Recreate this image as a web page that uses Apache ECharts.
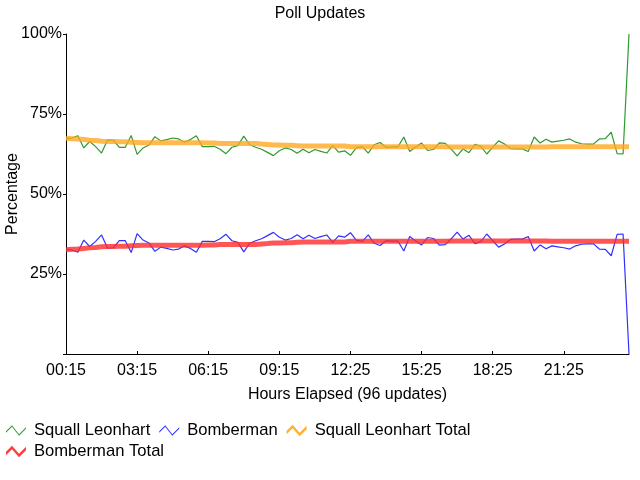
<!DOCTYPE html>
<html>
<head>
<meta charset="utf-8">
<script src="https://cdn.jsdelivr.net/npm/echarts@6/dist/echarts.min.js"></script>
<style>html,body{margin:0;padding:0;background:#fff}#c{width:640px;height:480px}</style>
</head>
<body>
<div id="c"></div>
<script>
var categories = [
 "00:15","00:30","00:45","01:00","01:15","01:30","01:45","02:00","02:15","02:30",
 "02:45","03:00","03:15","03:30","03:45","04:00","04:15","04:30","04:45","05:00",
 "05:15","05:30","05:45","06:00","06:15","06:30","06:45","07:00","07:15","07:30",
 "07:45","08:00","08:15","08:30","08:45","09:00","09:15","09:30","09:45","10:00",
 "10:15","10:30","10:45","11:00","11:15","11:40","11:55","12:10","12:25","12:40",
 "12:55","13:10","13:25","13:40","13:55","14:10","14:25","14:40","14:55","15:10",
 "15:25","15:40","15:55","16:10","16:25","16:40","16:55","17:10","17:25","17:40",
 "17:55","18:10","18:25","18:40","18:55","19:10","19:25","19:40","19:55","20:10",
 "20:25","20:40","20:55","21:10","21:25","21:40","21:55","22:10","22:25","22:40",
 "22:55","23:10","23:25","23:40","23:55","00:10"
];
var squall = [
 67.2,67.5,68.2,64.4,66.4,64.8,62.8,66.9,66.8,64.6,
 64.6,68.3,62.4,64.4,65.3,67.9,66.6,67.0,67.5,67.2,
 66.2,67.0,68.2,64.8,64.8,64.9,64.0,62.6,64.6,65.1,
 68.1,65.4,64.6,64.0,63.0,62.0,63.5,64.4,63.9,62.7,
 64.0,62.9,63.9,63.3,62.8,65.1,63.1,63.5,62.1,64.5,
 64.8,62.8,65.4,66.1,64.6,64.7,64.7,67.8,63.3,64.7,
 65.9,63.6,63.9,66.0,65.8,64.0,61.9,64.1,62.9,65.5,
 64.9,62.5,64.6,66.6,65.6,64.2,64.1,64.1,63.3,67.8,
 65.9,67.1,66.2,66.5,66.8,67.2,66.2,65.7,65.6,65.6,
 67.2,67.3,69.3,62.6,62.5,100
];
var bomber = [
 32.8,32.5,31.8,35.6,33.6,35.2,37.2,33.1,33.2,35.4,
 35.4,31.7,37.6,35.6,34.7,32.1,33.4,33.0,32.5,32.8,
 33.8,33.0,31.8,35.2,35.2,35.1,36.0,37.4,35.4,34.9,
 31.9,34.6,35.4,36.0,37.0,38.0,36.5,35.6,36.1,37.3,
 36.0,37.1,36.1,36.7,37.2,34.9,36.9,36.5,37.9,35.5,
 35.2,37.2,34.6,33.9,35.4,35.3,35.3,32.2,36.7,35.3,
 34.1,36.4,36.1,34.0,34.2,36.0,38.1,35.9,37.1,34.5,
 35.1,37.5,35.4,33.4,34.4,35.8,35.9,35.9,36.7,32.2,
 34.1,32.9,33.8,33.5,33.2,32.8,33.8,34.3,34.4,34.4,
 32.8,32.7,30.7,37.4,37.5,0
];
var squallTotal = [
 67.4,67.3,67.2,67.0,66.8,66.7,66.5,66.4,66.4,66.3,
 66.3,66.2,66.1,66.0,66.0,66.0,66.0,66.0,66.0,66.0,
 66.0,66.0,66.0,66.0,65.9,65.9,65.8,65.8,65.8,65.8,
 65.8,65.8,65.8,65.6,65.5,65.3,65.3,65.2,65.2,65.1,
 65.0,65.0,65.0,65.0,65.0,65.0,65.0,65.0,64.8,64.8,
 64.8,64.8,64.8,64.8,64.8,64.8,64.8,64.8,64.8,64.8,
 64.8,64.8,64.8,64.8,64.8,64.7,64.7,64.7,64.7,64.7,
 64.7,64.7,64.7,64.7,64.7,64.7,64.7,64.7,64.7,64.7,
 64.7,64.7,64.8,64.8,64.8,64.8,64.8,64.8,64.8,64.8,
 64.8,64.8,64.8,64.8,64.8,64.8
];
var bomberTotal = [
 32.6,32.7,32.8,33.0,33.2,33.3,33.5,33.6,33.6,33.7,
 33.7,33.8,33.9,34.0,34.0,34.0,34.0,34.0,34.0,34.0,
 34.0,34.0,34.0,34.0,34.1,34.1,34.2,34.2,34.2,34.2,
 34.2,34.2,34.2,34.4,34.5,34.7,34.7,34.8,34.8,34.9,
 35.0,35.0,35.0,35.0,35.0,35.0,35.0,35.0,35.2,35.2,
 35.2,35.2,35.2,35.2,35.2,35.2,35.2,35.2,35.2,35.2,
 35.2,35.2,35.2,35.2,35.2,35.3,35.3,35.3,35.3,35.3,
 35.3,35.3,35.3,35.3,35.3,35.3,35.3,35.3,35.3,35.3,
 35.3,35.3,35.2,35.2,35.2,35.2,35.2,35.2,35.2,35.2,
 35.2,35.2,35.2,35.2,35.2,35.2
];
var yTicks = [0, 25, 50, 75, 100];

var FONT = '"Liberation Sans", Arial, sans-serif';
var thinIcon = 'path://M0,7L6,1L13,10L20,3L20,4.6L13,11.6L6,2.6L0,8.6Z';
var thickIcon = 'path://M0,6L6,0L13,8L20,1L20,4.5L13,11.5L6,3.5L0,9.5Z';
var legendText = {fontFamily: FONT, fontSize: 16.6, color: '#000', padding: [0,0,0,3]};

var chart = echarts.init(document.getElementById('c'), null, {renderer: 'canvas'});
chart.setOption({
  animation: false,
  backgroundColor: '#ffffff',
  textStyle: {fontFamily: FONT},
  title: {
    text: 'Poll Updates', left: 'center', top: 1,
    textStyle: {fontFamily: FONT, fontSize: 16, fontWeight: 'normal', color: '#000'}
  },
  legend: [{
    left: 6, top: 422, itemWidth: 20, itemHeight: 12, itemGap: 9,
    orient: 'horizontal', padding: 0, textStyle: legendText,
    data: [
      {name: 'Squall Leonhart', icon: thinIcon},
      {name: 'Bomberman', icon: thinIcon},
      {name: 'Squall Leonhart Total', icon: thickIcon}
    ]
  }, {
    left: 6, top: 443, itemWidth: 20, itemHeight: 12, itemGap: 9,
    orient: 'horizontal', padding: 0, textStyle: legendText,
    data: [
      {name: 'Bomberman Total', icon: thickIcon}
    ]
  }],
  grid: {left: 66, right: 11, top: 34, bottom: 126, containLabel: false, outerBoundsMode: 'none'},
  xAxis: {
    type: 'category', data: categories, boundaryGap: false,
    name: 'Hours Elapsed (96 updates)', nameLocation: 'middle', nameGap: 33,
    nameTextStyle: {fontFamily: FONT, fontSize: 16, color: '#000'},
    axisLine: {lineStyle: {color: '#000', width: 1}},
    axisTick: {show: true, inside: true, length: 3, interval: 11, lineStyle: {color: '#000'}},
    axisLabel: {interval: 11, fontFamily: FONT, fontSize: 16, color: '#000', margin: 9},
    splitLine: {show: false}
  },
  yAxis: {
    type: 'value', min: yTicks[0], max: yTicks[yTicks.length-1], interval: 25,
    name: 'Percentage', nameLocation: 'middle', nameGap: 45, nameRotate: 90,
    nameMoveOverlap: false,
    nameTextStyle: {fontFamily: FONT, fontSize: 16, color: '#000'},
    axisLine: {show: true, lineStyle: {color: '#000', width: 1}},
    axisTick: {show: true, inside: false, length: 3, lineStyle: {color: '#000'}},
    axisLabel: {fontFamily: FONT, fontSize: 16, color: '#000', margin: 4,
      formatter: function (v) { return v === 0 ? '' : v + '%'; }},
    splitLine: {show: false}
  },
  series: [
    {name: 'Squall Leonhart', type: 'line', data: squall, showSymbol: false, symbol: 'none',
     lineStyle: {color: '#2e9a2e', width: 1.2}, itemStyle: {color: '#2e9a2e'}, z: 2},
    {name: 'Bomberman', type: 'line', data: bomber, showSymbol: false, symbol: 'none',
     lineStyle: {color: '#3030ff', width: 1.2}, itemStyle: {color: '#3030ff'}, z: 2},
    {name: 'Squall Leonhart Total', type: 'line', data: squallTotal, showSymbol: false, symbol: 'none',
     lineStyle: {color: '#ffa820', width: 5, opacity: 0.8}, itemStyle: {color: '#ffb030'}, z: 3},
    {name: 'Bomberman Total', type: 'line', data: bomberTotal, showSymbol: false, symbol: 'none',
     lineStyle: {color: '#ff2a2a', width: 5, opacity: 0.8}, itemStyle: {color: '#ff3c3c'}, z: 3}
  ]
});
</script>
</body>
</html>
